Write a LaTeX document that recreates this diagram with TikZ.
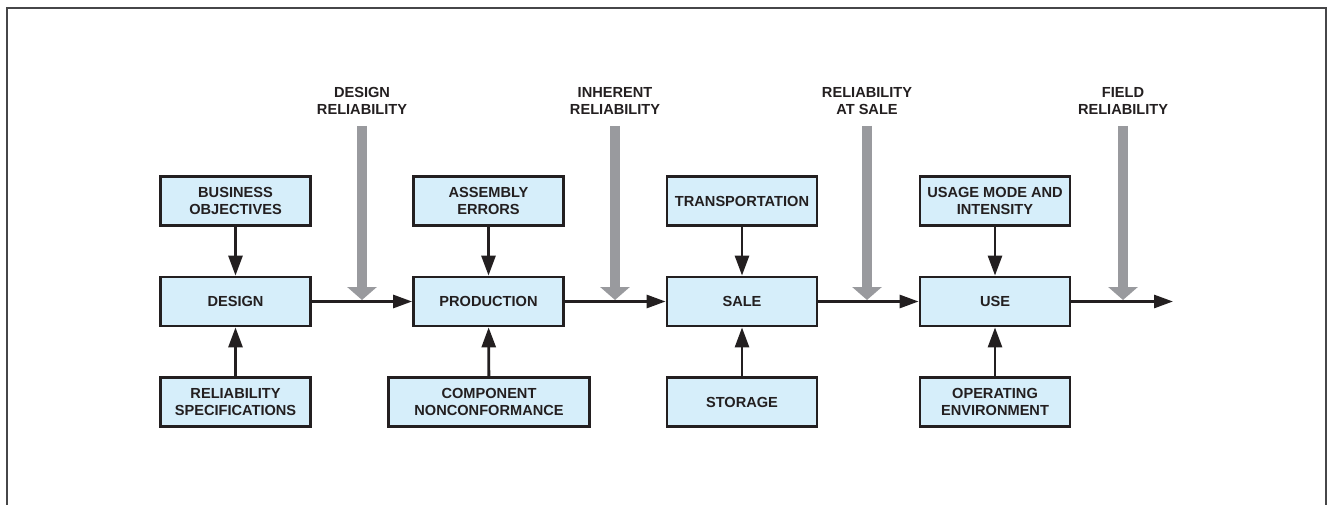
\documentclass[tikz,border=0pt]{standalone}
\usepackage{fontspec}
\setmainfont{Liberation Sans}
\usetikzlibrary{arrows.meta}
\definecolor{boxfill}{RGB}{214,238,250}
\definecolor{ink}{RGB}{35,31,32}
\definecolor{relgray}{RGB}{153,154,158}
\definecolor{framegray}{RGB}{70,70,72}
\tikzset{
  stagebox/.style={draw=ink, line width=2.8pt, fill=boxfill, text=ink,
    minimum width=150pt, minimum height=49pt, align=center, inner sep=2pt,
    font=\fontsize{14.6}{17}\selectfont\bfseries},
  widebox/.style={stagebox, minimum width=201pt},
  rellabel/.style={text=ink, align=center, inner sep=0pt,
    font=\fontsize{14.6}{17}\selectfont\bfseries},
  flow/.style={draw=ink, line width=2.8pt,
    -{Triangle[length=19pt,width=13pt]}},
  feed/.style={draw=ink, line width=2.8pt,
    -{Triangle[length=20pt,width=14pt]}},
  relarrow/.style={draw=relgray, line width=10pt,
    -{Triangle[length=13pt,width=29pt]}},
}
\begin{document}
\begin{tikzpicture}[x=1pt, y=-1pt]
\useasboundingbox (0,0) rectangle (1327,505);
% open frame
\draw[framegray, line width=2pt] (7,505) -- (7,8) -- (1326,8) -- (1326,505);

% stages
\node[stagebox] (design) at (235.5,301.5) {DESIGN};
\node[stagebox] (prod)   at (488.5,301.5) {PRODUCTION};
\node[stagebox] (sale)   at (742,301.5)   {SALE};
\node[stagebox] (use)    at (995,301.5)   {USE};

% inputs from above
\node[stagebox] (biz)   at (235.5,201) {BUSINESS\\OBJECTIVES};
\node[stagebox] (asm)   at (488.5,201) {ASSEMBLY\\ERRORS};
\node[stagebox] (trans) at (742,201)   {TRANSPORTATION};
\node[stagebox] (usage) at (995,201)   {USAGE MODE AND\\INTENSITY};

% inputs from below
\node[stagebox] (spec)  at (235.5,402) {RELIABILITY\\SPECIFICATIONS};
\node[widebox]  (comp)  at (489,402)   {COMPONENT\\NONCONFORMANCE};
\node[stagebox] (stor)  at (742,402)   {STORAGE};
\node[stagebox] (env)   at (995,402)   {OPERATING\\ENVIRONMENT};

% reliability labels
\node[rellabel] (rdes)  at (362,101)  {DESIGN\\RELIABILITY};
\node[rellabel] (rinh)  at (615,101)  {INHERENT\\RELIABILITY};
\node[rellabel] (rsale) at (867,101)  {RELIABILITY\\AT SALE};
\node[rellabel] (rfld)  at (1123,101) {FIELD\\RELIABILITY};

\coordinate (out) at (1173,301.5);

% reliability measurement points
\foreach \l in {rdes, rinh, rsale, rfld}
  \draw[relarrow] (\l.south |- 0,126) -- (\l.south |- 0,300);

% main flow
\draw[flow] (design) -- (prod);
\draw[flow] (prod) -- (sale);
\draw[flow] (sale) -- (use);
\draw[flow] (use) -- (out);

% feeding factors
\foreach \a/\b in {biz/design, asm/prod, trans/sale, usage/use,
                   spec/design, comp/prod, stor/sale, env/use}
  \draw[feed] (\a) -- (\b);
\end{tikzpicture}
\end{document}
